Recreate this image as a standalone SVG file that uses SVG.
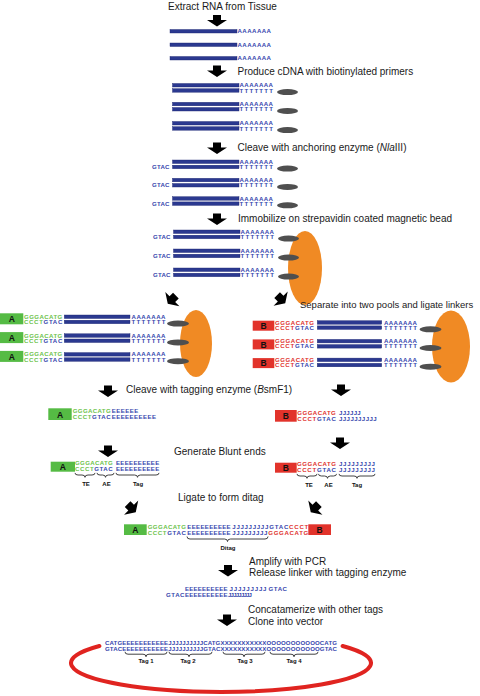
<svg xmlns="http://www.w3.org/2000/svg" xmlns:xlink="http://www.w3.org/1999/xlink" width="480" height="696" viewBox="0 0 480 696">
<style>
.lbl{font-family:"Liberation Sans",Arial,sans-serif;font-size:10px;fill:#1a1a1a}
.seq{font-family:"Liberation Sans",Arial,sans-serif;font-size:6.1px;font-weight:bold}
.b{fill:#3545ad}
.g{fill:#6cc24a}
.r{fill:#e0302a}
.bar{fill:#2b3990;stroke:#1b2470;stroke-width:0.4}
.oval{fill:#4f4f4f}
.bead{fill:#f08a24}
.br{fill:none;stroke:#111;stroke-width:0.8}
.tl{font-family:"Liberation Sans",Arial,sans-serif;font-size:6px;font-weight:bold;fill:#111;text-anchor:middle}
.boxg{fill:#55bb44}
.boxr{fill:#e2332b}
.bl{font-family:"Liberation Sans",Arial,sans-serif;font-size:8.5px;font-weight:bold;fill:#111;text-anchor:middle}
.arr{fill:#000}
</style>
<defs>
<path id="arrow" class="arr" d="M-4,-5.5 H4 V-0.5 H10 L0,6 L-10,-0.5 H-4 Z"/>
<g id="ss">
<rect class="bar" x="170" y="0" width="67" height="3.5"/>
<text class="seq b" x="237.5" y="3.8" textLength="33.5">AAAAAAA</text>
</g>
<g id="ds">
<rect class="bar" x="172.5" y="0" width="66.5" height="3.5"/>
<rect class="bar" x="172.5" y="5.2" width="66.5" height="3.5"/>
<text class="seq b" x="239.5" y="3.8" textLength="33.5">AAAAAAA</text>
<text class="seq b" x="239.5" y="9" textLength="33.5">TTTTTTT</text>
<ellipse class="oval" cx="287.5" cy="8.6" rx="10.5" ry="3"/>
</g>
<g id="dsg">
<use xlink:href="#ds"/>
<text class="seq b" x="152" y="9" textLength="17.5">GTAC</text>
</g>
<g id="rowA">
<rect class="boxg" x="0" y="-1.7" width="23.3" height="11"/>
<text class="bl" x="11.7" y="7.4">A</text>
<text class="seq g" x="24" y="3.8" textLength="38.3">GGGACATG</text>
<text class="seq" x="24" y="9" textLength="38.3"><tspan class="g">CCCT</tspan><tspan class="b">GTAC</tspan></text>
<rect class="bar" x="64.3" y="0" width="65.7" height="3.5"/>
<rect class="bar" x="64.3" y="5.2" width="65.7" height="3.5"/>
<text class="seq b" x="131.5" y="3.8" textLength="34">AAAAAAA</text>
<text class="seq b" x="131.5" y="9" textLength="34">TTTTTTT</text>
<ellipse class="oval" cx="178" cy="8.6" rx="11" ry="3"/>
</g>
<g id="rowB">
<rect class="boxr" x="252.7" y="0" width="21.6" height="10"/>
<text class="bl" x="263.5" y="8.2">B</text>
<text class="seq r" x="275" y="3.8" textLength="39">GGGACATG</text>
<text class="seq" x="275" y="9" textLength="39"><tspan class="r">CCCT</tspan><tspan class="b">GTAC</tspan></text>
<rect class="bar" x="317.3" y="0" width="64.4" height="3.5"/>
<rect class="bar" x="317.3" y="5.2" width="64.4" height="3.5"/>
<text class="seq b" x="384" y="3.8" textLength="33">AAAAAAA</text>
<text class="seq b" x="384" y="9" textLength="33">TTTTTTT</text>
<ellipse class="oval" cx="430.5" cy="8.6" rx="11" ry="3"/>
</g>
</defs>

<g id="connectors">
<use xlink:href="#arrow" transform="translate(217,20.5)"/>
<use xlink:href="#arrow" transform="translate(217,71)"/>
<use xlink:href="#arrow" transform="translate(217,148)"/>
<use xlink:href="#arrow" transform="translate(217,219)"/>
<use xlink:href="#arrow" transform="translate(172,299.5) rotate(45)"/>
<use xlink:href="#arrow" transform="translate(281,299) rotate(-45)"/>
<use xlink:href="#arrow" transform="translate(108,391)"/>
<use xlink:href="#arrow" transform="translate(341,390)"/>
<use xlink:href="#arrow" transform="translate(108,451)"/>
<use xlink:href="#arrow" transform="translate(340,443)"/>
<use xlink:href="#arrow" transform="translate(131.5,508) rotate(-45)"/>
<use xlink:href="#arrow" transform="translate(315,508) rotate(45)"/>
<use xlink:href="#arrow" transform="translate(228,570.5)"/>
<use xlink:href="#arrow" transform="translate(227,620)"/>
</g>

<g id="step1">
<text class="lbl" x="168" y="9.5">Extract RNA from Tissue</text>
<use xlink:href="#ss" transform="translate(0,29.5)"/>
<use xlink:href="#ss" transform="translate(0,43)"/>
<use xlink:href="#ss" transform="translate(0,56.5)"/>
</g>

<g id="step2">
<text class="lbl" x="237.5" y="75">Produce cDNA with biotinylated primers</text>
<use xlink:href="#ds" transform="translate(0,83.5)"/>
<use xlink:href="#ds" transform="translate(0,102.3)"/>
<use xlink:href="#ds" transform="translate(0,121.5)"/>
</g>

<g id="step3">
<text class="lbl" x="237.5" y="150.5">Cleave with anchoring enzyme (<tspan font-style="italic">Nla</tspan>III)</text>
<use xlink:href="#dsg" transform="translate(0,160)"/>
<use xlink:href="#dsg" transform="translate(0,178.3)"/>
<use xlink:href="#dsg" transform="translate(0,196.7)"/>
</g>

<g id="step4">
<text class="lbl" x="238" y="221.5">Immobilize on strepavidin coated magnetic bead</text>
<ellipse class="bead" cx="305" cy="268" rx="17" ry="37"/>
<use xlink:href="#dsg" transform="translate(1,230)"/>
<use xlink:href="#dsg" transform="translate(1,249)"/>
<use xlink:href="#dsg" transform="translate(1,268)"/>
</g>

<g id="step5">
<text class="lbl" x="300" y="308" style="font-size:9.5px">Separate into two pools and ligate linkers</text>
<ellipse class="bead" cx="196" cy="343.5" rx="16" ry="33.5"/>
<use xlink:href="#rowA" transform="translate(0,315)"/>
<use xlink:href="#rowA" transform="translate(0,333.8)"/>
<use xlink:href="#rowA" transform="translate(0,352.6)"/>
<ellipse class="bead" cx="451" cy="346.5" rx="19" ry="36"/>
<use xlink:href="#rowB" transform="translate(0,320.7)"/>
<use xlink:href="#rowB" transform="translate(0,339.4)"/>
<use xlink:href="#rowB" transform="translate(0,358.1)"/>
</g>

<g id="step6">
<text class="lbl" x="126" y="392.5">Cleave with tagging enzyme (<tspan font-style="italic">B</tspan>smF1)</text>
<rect class="boxg" x="48.3" y="408.3" width="23.4" height="11.7"/>
<text class="bl" x="60" y="417.5">A</text>
<text class="seq g" x="72.7" y="413" textLength="38">GGGACATG</text>
<text class="seq" x="72.7" y="419" textLength="38"><tspan class="g">CCCT</tspan><tspan class="b">GTAC</tspan></text>
<text class="seq b" x="111.7" y="413" textLength="26.6">EEEEEE</text>
<text class="seq b" x="111.7" y="419" textLength="44.3">EEEEEEEEEE</text>
<rect class="boxr" x="275" y="410" width="21.7" height="11.7"/>
<text class="bl" x="285.8" y="419">B</text>
<text class="seq r" x="297.3" y="415" textLength="38.5">GGGACATG</text>
<text class="seq" x="297.3" y="420.7" textLength="38.5"><tspan class="r">CCCT</tspan><tspan class="b">GTAC</tspan></text>
<text class="seq b" x="339" y="415" textLength="21.7">JJJJJJ</text>
<text class="seq b" x="339" y="420.7" textLength="37.7">JJJJJJJJJJ</text>
</g>

<g id="step7">
<text class="lbl" x="174" y="455">Generate Blunt ends</text>
<rect class="boxg" x="50.7" y="461.7" width="24.3" height="10"/>
<text class="bl" x="62.8" y="470">A</text>
<text class="seq g" x="75" y="465.3" textLength="37.7">GGGACATG</text>
<text class="seq" x="75" y="471.1" textLength="37.7"><tspan class="g">CCCT</tspan><tspan class="b">GTAC</tspan></text>
<text class="seq b" x="116" y="465.3" textLength="43.3">EEEEEEEEEE</text>
<text class="seq b" x="116" y="471.1" textLength="43.3">EEEEEEEEEE</text>
<path class="br" d="M75,472.9 Q75,475 78,475 H82 Q85,475 85,477.3 Q85,475 88,475 H92 Q95,475 95,472.9"/>
<path class="br" d="M97,472.9 Q97,475 100,475 H102.5 Q105.5,475 105.5,477.3 Q105.5,475 108.5,475 H111 Q114,475 114,472.9"/>
<path class="br" d="M116,472.9 Q116,475 119,475 H134.5 Q137.5,475 137.5,477.3 Q137.5,475 140.5,475 H156 Q159,475 159,472.9"/>
<text class="tl" x="86" y="486.3">TE</text>
<text class="tl" x="106.5" y="486.3">AE</text>
<text class="tl" x="138" y="486.3">Tag</text>
<rect class="boxr" x="275" y="462.7" width="21.7" height="10"/>
<text class="bl" x="285.8" y="471">B</text>
<text class="seq r" x="297" y="466.3" textLength="39">GGGACATG</text>
<text class="seq" x="297" y="472.1" textLength="39"><tspan class="r">CCCT</tspan><tspan class="b">GTAC</tspan></text>
<text class="seq b" x="339" y="466.3" textLength="36">JJJJJJJJJ</text>
<text class="seq b" x="339" y="472.1" textLength="36">JJJJJJJJJ</text>
<path class="br" d="M297,473.9 Q297,476 300,476 H304 Q307,476 307,478.3 Q307,476 310,476 H314 Q317,476 317,473.9"/>
<path class="br" d="M318.5,473.9 Q318.5,476 321.5,476 H324.5 Q327.5,476 327.5,478.3 Q327.5,476 330.5,476 H333.5 Q336.5,476 336.5,473.9"/>
<path class="br" d="M339,473.9 Q339,476 342,476 H354 Q357,476 357,478.3 Q357,476 360,476 H372 Q375,476 375,473.9"/>
<text class="tl" x="309" y="486.8">TE</text>
<text class="tl" x="328.5" y="486.8">AE</text>
<text class="tl" x="357" y="486.8">Tag</text>
</g>

<g id="step8">
<text class="lbl" x="178" y="500.5">Ligate to form ditag</text>
<rect class="boxg" x="124" y="524.3" width="22.7" height="10.7"/>
<text class="bl" x="135.3" y="533">A</text>
<text class="seq g" x="147.7" y="529" textLength="38.3">GGGACATG</text>
<text class="seq" x="147.7" y="534.5" textLength="38.3"><tspan class="g">CCCT</tspan><tspan class="b">GTAC</tspan></text>
<text class="seq b" x="187.3" y="529" textLength="43.4">EEEEEEEEEE</text>
<text class="seq b" x="187.3" y="534.5" textLength="43.4">EEEEEEEEEE</text>
<text class="seq b" x="232.3" y="529" textLength="36">JJJJJJJJJ</text>
<text class="seq b" x="232.3" y="534.5" textLength="35">JJJJJJJJJ</text>
<text class="seq" x="269.3" y="529" textLength="39"><tspan class="b">GTAC</tspan><tspan class="r">CCCT</tspan></text>
<text class="seq r" x="268.3" y="534.5" textLength="40">GGGACATG</text>
<rect class="boxr" x="308.3" y="524.3" width="22.7" height="10.7"/>
<text class="bl" x="319.6" y="533">B</text>
<path class="br" d="M187,536.5 Q187,539 190,539 H224.5 Q227.5,539 227.5,541.5 Q227.5,539 230.5,539 H265 Q268,539 268,536.5"/>
<text class="tl" x="228" y="550">Ditag</text>
</g>

<g id="step9">
<text class="lbl" x="249" y="564.5">Amplify with PCR</text>
<text class="lbl" x="249" y="576">Release linker with tagging enzyme</text>
<text class="seq b" x="185" y="591" textLength="42.5">EEEEEEEEEE</text>
<text class="seq b" x="229.5" y="591" textLength="37">JJJJJJJJJ</text>
<text class="seq b" x="268.5" y="591" textLength="18.5">GTAC</text>
<text class="seq b" x="166" y="596.6" textLength="18.5">GTAC</text>
<text class="seq b" x="185" y="596.6" textLength="42.5">EEEEEEEEEE</text>
<text class="seq b" x="228" y="596.6" textLength="24">JJJJJJJJJ</text>
</g>

<g id="step10">
<text class="lbl" x="248" y="612.5">Concatamerize with other tags</text>
<text class="lbl" x="248" y="624.5">Clone into vector</text>
<path d="M99.4,646 A150,29 0 1 0 342.6,646" fill="none" stroke="#e02420" stroke-width="4" stroke-linecap="round"/>
<text class="seq b" x="105" y="644.5" textLength="232">CATGEEEEEEEEEEEJJJJJJJJJJCATGXXXXXXXXXXXOOOOOOOOOOOCATG</text>
<text class="seq b" x="105" y="650.5" textLength="232">GTACEEEEEEEEEEEJJJJJJJJJJGTACXXXXXXXXXXXOOOOOOOOOOOGTAC</text>
<path class="br" d="M125,651.8 Q125,654.2 128,654.2 H143 Q146,654.2 146,656.7 Q146,654.2 149,654.2 H164 Q167,654.2 167,651.8"/>
<path class="br" d="M169,651.8 Q169,654.2 172,654.2 H186 Q189,654.2 189,656.7 Q189,654.2 192,654.2 H209 Q212,654.2 212,651.8"/>
<path class="br" d="M223,651.8 Q223,654.2 226,654.2 H241 Q244,654.2 244,656.7 Q244,654.2 247,654.2 H262 Q265,654.2 265,651.8"/>
<path class="br" d="M270,651.8 Q270,654.2 273,654.2 H291 Q294,654.2 294,656.7 Q294,654.2 297,654.2 H315 Q318,654.2 318,651.8"/>
<text class="tl" x="146" y="662.7">Tag 1</text>
<text class="tl" x="188" y="662.7">Tag 2</text>
<text class="tl" x="245" y="662.7">Tag 3</text>
<text class="tl" x="294" y="662.7">Tag 4</text>
</g>
</svg>
